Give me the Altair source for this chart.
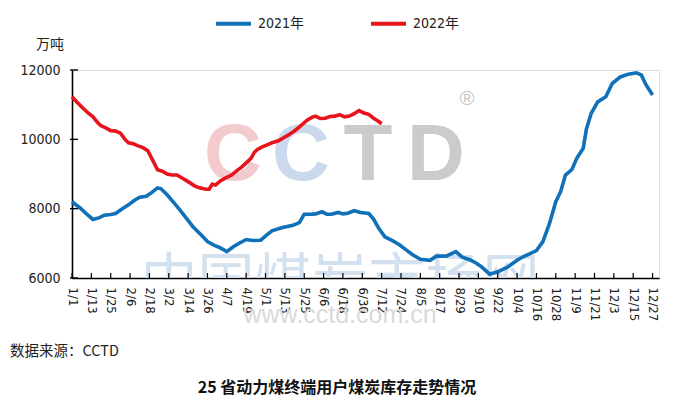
import json
from datetime import datetime
import altair as alt
import pandas as pd

# ---------------- data ----------------
dates_2021 = ["1/1", "1/6", "1/10", "1/14", "1/18", "1/21", "1/25", "1/28", "2/1", "2/5",
              "2/9", "2/12", "2/16", "2/19", "2/23", "2/25", "3/1", "3/5", "3/9", "3/13",
              "3/17", "3/22", "3/26", "3/30", "4/3", "4/7", "4/11", "4/15", "4/19", "4/23",
              "4/28", "5/2", "5/5", "5/11", "5/18", "5/22", "5/25", "5/29", "6/1", "6/5",
              "6/8", "6/11", "6/15", "6/18", "6/21", "6/25", "6/29", "7/4", "7/7", "7/10",
              "7/14", "7/19", "7/23", "7/27", "7/31", "8/5", "8/11", "8/15", "8/21", "8/27",
              "8/31", "9/5", "9/9", "9/12", "9/17", "9/22", "9/28", "10/4", "10/8", "10/12",
              "10/16", "10/20", "10/24", "10/28", "10/31", "11/3", "11/7", "11/10", "11/14", "11/16",
              "11/19", "11/23", "11/28", "12/2", "12/7", "12/12", "12/17", "12/20", "12/23", "12/27"]
values_2021 = [8200, 8020, 7850, 7690, 7740, 7810, 7830, 7860, 7990, 8110,
               8250, 8330, 8360, 8450, 8600, 8580, 8400, 8180, 7960, 7720,
               7480, 7250, 7050, 6950, 6870, 6760, 6900, 7010, 7110, 7080,
               7090, 7250, 7360, 7450, 7520, 7600, 7840, 7840, 7850, 7910,
               7840, 7840, 7890, 7850, 7870, 7940, 7890, 7860, 7700, 7450,
               7190, 7070, 6960, 6820, 6680, 6540, 6510, 6630, 6630, 6760,
               6600, 6520, 6420, 6320, 6110, 6180, 6310, 6510, 6620, 6700,
               6790, 7050, 7560, 8200, 8490, 8970, 9130, 9450, 9740, 10300,
               10750, 11080, 11230, 11610, 11800, 11880, 11920, 11860, 11570, 11280]

dates_2022 = ["1/1", "1/4", "1/8", "1/11", "1/14", "1/17", "1/19", "1/22", "1/25", "1/28",
              "1/31", "2/3", "2/5", "2/8", "2/11", "2/14", "2/17", "2/20", "2/23", "2/26",
              "3/1", "3/4", "3/7", "3/10", "3/14", "3/18", "3/21", "3/25", "3/27", "3/29",
              "3/31", "4/3", "4/6", "4/10", "4/13", "4/16", "4/19", "4/22", "4/24", "4/26",
              "4/29", "5/2", "5/5", "5/9", "5/12", "5/15", "5/18", "5/21", "5/24", "5/27",
              "5/30", "6/1", "6/4", "6/7", "6/10", "6/13", "6/16", "6/19", "6/22", "6/25",
              "6/28", "7/1", "7/4", "7/7", "7/10", "7/12"]
values_2022 = [11230, 11080, 10890, 10760, 10650, 10480, 10390, 10330, 10250, 10240,
               10180, 9990, 9900, 9870, 9810, 9760, 9670, 9400, 9120, 9080,
               9000, 8970, 8970, 8890, 8780, 8660, 8600, 8560, 8560, 8710,
               8680, 8800, 8880, 8970, 9090, 9190, 9320, 9450, 9620, 9710,
               9780, 9840, 9900, 9960, 10040, 10120, 10210, 10320, 10440, 10560,
               10640, 10670, 10600, 10610, 10660, 10670, 10710, 10650, 10670, 10740,
               10830, 10760, 10720, 10610, 10520, 10450]

series_names = ["2021年", "2022年"]
series_colors = ["#1070B8", "#E8141C"]

tick_labels = ["1/1", "1/13", "1/25", "2/6", "2/18", "3/2", "3/14", "3/26", "4/7", "4/19",
               "5/1", "5/13", "5/25", "6/6", "6/18", "6/30", "7/12", "7/24", "8/5", "8/17",
               "8/29", "9/10", "9/22", "10/4", "10/16", "10/28", "11/9", "11/21", "12/3", "12/15",
               "12/27"]
y_ticks = [6000, 8000, 10000, 12000]

unit_text = "万吨"
source_text = "数据来源：CCTD"
title_text = "25 省动力煤终端用户煤炭库存走势情况"


def doy(s):
    return datetime.strptime("2021/" + s, "%Y/%m/%d").timetuple().tm_yday - 1


df = pd.concat([
    pd.DataFrame({"series": series_names[0], "day": [doy(d) for d in dates_2021],
                  "date": dates_2021, "value": values_2021}),
    pd.DataFrame({"series": series_names[1], "day": [doy(d) for d in dates_2022],
                  "date": dates_2022, "value": values_2022}),
])
tick_vals = [doy(t) for t in tick_labels]
label_lookup = "{" + ",".join(f"'{v}':'{l}'" for v, l in zip(tick_vals, tick_labels)) + "}"

W, H = 587, 208
FONT = "'DejaVu Sans Condensed', 'Liberation Sans Narrow', 'Liberation Sans', 'Noto Sans CJK SC', sans-serif"
CJK = "'Noto Sans CJK SC', sans-serif"

xscale = alt.Scale(domain=[0, 364], nice=False, zero=False)
yscale = alt.Scale(domain=[6000, 12000], nice=False, zero=False)

xaxis = alt.Axis(
    values=tick_vals, labelExpr=label_lookup + "[datum.value]",
    labelAngle=90, labelAlign="left", labelBaseline="middle",
    ticks=False, grid=False, title=None, labelPadding=9,
    labelFont=FONT, labelFontSize=13, labelColor="#222222",
    domainColor="#000000", domainWidth=1.6, labelOverlap=False)
yaxis = alt.Axis(
    values=y_ticks, format="d", ticks=False, grid=False, title=None, labelPadding=12,
    labelFont=FONT, labelFontSize=14, labelColor="#222222",
    domainColor="#000000", domainWidth=1.6, labelOverlap=False)

one = pd.DataFrame({"k": [0]})


def wm(text, x, y, size, color, weight="normal", font=FONT, clip=False):
    return alt.Chart(one).mark_text(
        text=text, fontSize=size, font=font, fontWeight=weight, color=color,
        align="center", baseline="middle", clip=clip
    ).encode(x=alt.value(x), y=alt.value(y))


LOGO = "'Liberation Sans'"
watermark = alt.layer(
    wm("C", 161, 86, 80, "#F3CACD", "bold", LOGO),
    wm("C", 229, 86, 80, "#CADAEC", "bold", LOGO),
    wm("T", 296, 86, 80, "#CBCBCB", "bold", LOGO),
    wm("D", 364, 86, 80, "#CBCBCB", "bold", LOGO),
    wm("®", 395, 29, 20, "#C4C4C4", "normal", LOGO),
    wm("中国煤炭市场网", 268, 213, 57, "#D3E0EF", "normal", CJK, True),
    wm("www.cctd.com.cn", 268, 245, 25, "#DADADA", "normal", LOGO),
)

lines = alt.Chart(df).mark_line(strokeWidth=3.6).encode(
    x=alt.X("day:Q", scale=xscale, axis=xaxis),
    y=alt.Y("value:Q", scale=yscale, axis=yaxis),
    color=alt.Color("series:N", scale=alt.Scale(domain=series_names, range=series_colors),
                    legend=alt.Legend(orient="none", direction="horizontal",
                                      legendX=142, legendY=-66, title=None,
                                      symbolType="stroke", symbolSize=1225,
                                      symbolStrokeWidth=4, labelFont=FONT,
                                      labelFontSize=14, labelColor="#222222",
                                      labelOffset=5, columnPadding=58)),
    detail="series:N",
    order="day:Q",
)

ytick_rules = alt.Chart(pd.DataFrame({"v": y_ticks})).mark_rule(
    color="#000000", strokeWidth=1.4).encode(
    y=alt.Y("v:Q", scale=yscale, axis=yaxis), x=alt.value(-2), x2=alt.value(6))

xtick_rules = alt.Chart(pd.DataFrame({"d": tick_vals})).mark_rule(
    color="#000000", strokeWidth=1.2).encode(
    x=alt.X("d:Q", scale=xscale, axis=xaxis), y=alt.value(H), y2=alt.value(H - 5))

texts = alt.layer(
    alt.Chart(one).mark_text(text=unit_text, font=CJK, fontSize=14, color="#222222",
                             align="center", baseline="middle").encode(
        x=alt.value(-22), y=alt.value(-25)),
    alt.Chart(one).mark_text(text=source_text, font=CJK, fontSize=14.5, color="#222222",
                             align="left", baseline="middle").encode(
        x=alt.value(-62), y=alt.value(282)),
    alt.Chart(one).mark_text(text=title_text, font=CJK, fontSize=16, fontWeight="bold",
                             color="#111111", align="center", baseline="middle").encode(
        x=alt.value(265), y=alt.value(318)),
)

chart = alt.layer(watermark, lines, ytick_rules, xtick_rules, texts).properties(
    width=W, height=H,
    autosize=alt.AutoSizeParams(type="none"),
    padding={"left": 64, "top": 62, "right": 7, "bottom": 126},
).configure_view(strokeWidth=0).configure(background="#ffffff")

chart.save("out.html", embed_options={"renderer": "svg", "actions": False})
